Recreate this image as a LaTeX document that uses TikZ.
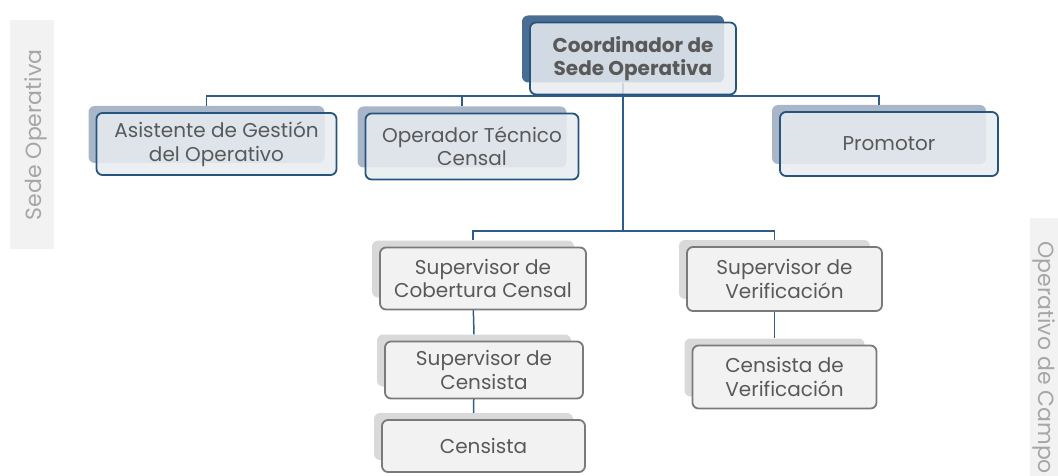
\documentclass[tikz,border=0pt]{standalone}
\usepackage{fontspec}
\setmainfont{Poppins}
\usetikzlibrary{positioning,backgrounds}

\definecolor{txtgray}{HTML}{595959}
\definecolor{bordblue}{HTML}{25547F}
\definecolor{frontblue}{HTML}{E9ECF0}
\definecolor{shblue}{HTML}{A9B6C8}
\definecolor{shtop}{HTML}{4A6E93}
\definecolor{bordgray}{HTML}{7A7A7A}
\definecolor{frontgray}{HTML}{F2F2F2}
\definecolor{shgray}{HTML}{D9D9D9}
\definecolor{linkblue}{HTML}{2E5C88}
\definecolor{bandgray}{HTML}{F2F2F2}
\definecolor{bandtext}{HTML}{A6A6A6}

\begin{document}
\begin{tikzpicture}[x=1pt, y=-1pt, font=\fontsize{20}{23.5}\selectfont,
  box/.style={rounded corners=6pt, align=center, text=txtgray, inner sep=2pt, line width=1.8pt},
  blue box/.style={box, draw=bordblue, fill=frontblue, fill opacity=0.85, text opacity=1},
  top box/.style={blue box, font=\fontsize{20}{23.5}\selectfont\bfseries},
  gray box/.style={box, draw=bordgray, fill=frontgray},
  blue shadow/.style={rounded corners=6pt, fill=shblue, inner sep=0pt},
  top shadow/.style={rounded corners=6pt, fill=shtop, inner sep=0pt},
  gray shadow/.style={rounded corners=6pt, fill=shgray, inner sep=0pt},
  link/.style={draw=linkblue, line width=1.5pt},
  sidetext/.style={text=bandtext, font=\fontsize{22}{26}\selectfont}]

\useasboundingbox (0,0) rectangle (1058,476);
\clip (0,0) rectangle (1058,476);

% Side bands
\fill[bandgray] (10,20) rectangle (54,249);
\node[sidetext, rotate=90] (sedelbl) at (36,135) {Sede Operativa};
\fill[bandgray] (1030,218) rectangle (1070,490);
\node[sidetext, rotate=-90, anchor=west] (campolbl) at (1044,238) {Operativo de Campo};

% Boxes: name / shadow centre x / y / width / height / kind / text
\foreach \n/\x/\y/\w/\h/\k/\t in {
  coord/623/49/206/72/top/{Coordinador de\\Sede Operativa},
  asis/206.5/134.5/240/62/blue/{Asistente de Gestión\\del Operativo},
  oper/462/137/213/66/blue/{Operador Técnico\\Censal},
  promo/879/134.5/218/64/blue/{Promotor},
  supcob/473/269/206/62/gray/{Supervisor de\\Cobertura Censal},
  supcen/474/360.5/198/57/gray/{Supervisor de\\Censista},
  cens/473.5/436.5/203/52/gray/{Censista},
  supver/774.5/269.5/195/64/gray/{Supervisor de\\Verificación},
  cenver/774.5/367.5/184/63/gray/{Censista de\\Verificación}} {
  \pgfmathsetmacro{\sw}{\w-4}
  \pgfmathsetmacro{\sh}{\h-5}
  \begin{pgfonlayer}{background}
    \node[\k\space shadow, minimum width=\sw pt, minimum height=\sh pt] (\n-s) at (\x,\y) {};
  \end{pgfonlayer}
  \node[\k\space box, minimum width=\w pt, minimum height=\h pt] (\n) at ([shift={(10,9.5)}]\n-s.center) {\t};
}

% Connectors
\coordinate (bar) at (0,96);
\coordinate (bus) at (0,231);
\begin{pgfonlayer}{background}
  \draw[link] (asis-s.north) -- (asis-s.north |- bar) -- (promo-s.north |- bar) -- (promo-s.north);
  \draw[link] (oper-s.north) -- (oper-s.north |- bar);
  \draw[link] (coord-s.south) -- (coord-s.south |- bus);
  \draw[link] (supcob-s.north) -- (supcob-s.north |- bus) -- (supver-s.north |- bus) -- (supver-s.north);
  \draw[link] (supcob-s.south) -- (supcen-s.north);
  \draw[link] (supcen-s.south) -- (cens-s.north);
  \draw[link] (supver-s.south) -- (cenver-s.north);
\end{pgfonlayer}

\end{tikzpicture}
\end{document}
